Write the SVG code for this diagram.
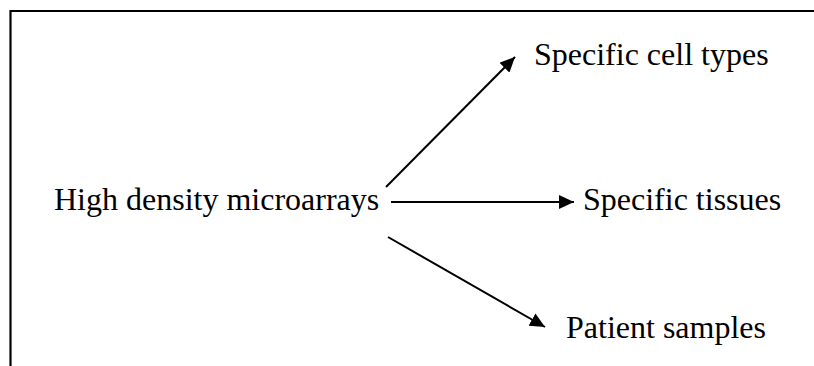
<svg xmlns="http://www.w3.org/2000/svg" width="814" height="366" viewBox="0 0 814 366">
<style>
.t{font-family:"Liberation Serif","Times New Roman",serif;font-size:32px;fill:#000}
.c{stroke:#000;stroke-width:2;fill:none}
</style>
<defs>
<marker id="ah" markerUnits="userSpaceOnUse" markerWidth="16" markerHeight="14" refX="15" refY="7" orient="auto">
<path d="M0,0 L15,7 L0,14 Z" fill="#000"/>
</marker>
</defs>
<rect width="814" height="366" fill="#fff"/>
<path d="M10.5,366 V11 H814" stroke="#000" stroke-width="2.2" fill="none"/>
<g id="n-source"><text class="t" x="54" y="210">High density microarrays</text></g>
<g id="n-cell"><text class="t" x="534" y="65">Specific cell types</text></g>
<g id="n-tissue"><text class="t" x="583" y="210">Specific tissues</text></g>
<g id="n-patient"><text class="t" x="566" y="338">Patient samples</text></g>
<g id="connectors">
<line class="c" x1="386" y1="187" x2="515" y2="57" marker-end="url(#ah)"/>
<line class="c" x1="391" y1="202" x2="574" y2="202" marker-end="url(#ah)"/>
<line class="c" x1="388" y1="237" x2="545" y2="327" marker-end="url(#ah)"/>
</g>
</svg>
